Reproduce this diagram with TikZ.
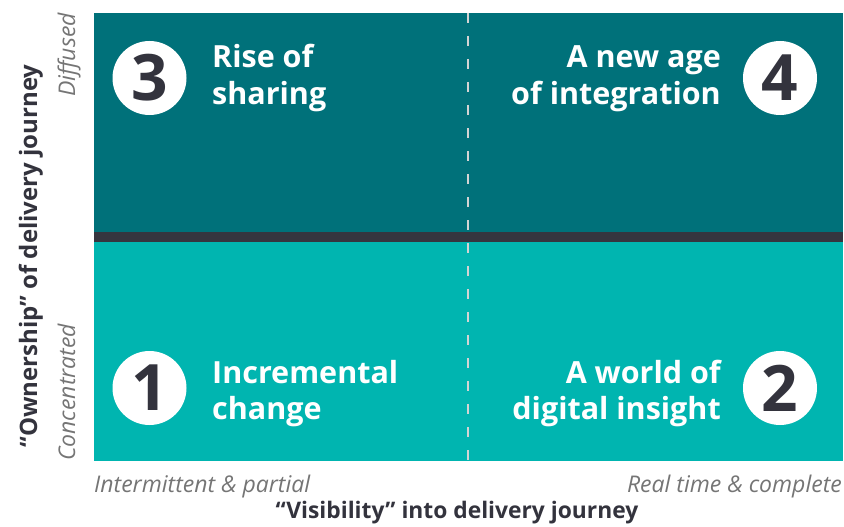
\documentclass[tikz,border=0pt]{standalone}
\usepackage{fontspec}
\setmainfont{Open Sans}
\definecolor{darkteal}{HTML}{00717A}
\definecolor{lightteal}{HTML}{00B5B0}
\definecolor{barcol}{HTML}{35353F}
\definecolor{inkcol}{HTML}{33333D}
\definecolor{labgray}{HTML}{757575}
\definecolor{dashgray}{HTML}{D4D4D4}
\tikzset{
  numcirc/.style={circle, fill=white, minimum size=74pt, inner sep=0pt,
    text=inkcol, font=\fontsize{64}{64}\selectfont\bfseries},
  title/.style={text=white, inner sep=0pt,
    font=\fontsize{30.5}{36}\selectfont\bfseries},
  endlab/.style={text=labgray, inner sep=0pt,
    font=\fontsize{23}{26}\selectfont\itshape},
  axislab/.style={text=inkcol, inner sep=0pt,
    font=\fontsize{22.8}{26}\selectfont\bfseries}
}
\begin{document}
\begin{tikzpicture}[x=1pt,y=-1pt]
\useasboundingbox (0,0) rectangle (844,527);
% quadrants
\fill[darkteal] (94,13) rectangle (843,237);
\fill[lightteal] (94,237) rectangle (843,461);
\draw[dashgray, line width=2pt, dash pattern=on 10pt off 13pt] (468,13) -- (468,461);
\fill[barcol] (94,232) rectangle (843,242);
% circles
\node[numcirc] (n3) at (149.5,78) {3};
\node[numcirc] (n4) at (780,78) {4};
\node[numcirc] (n1) at (149.5,388) {1};
\node[numcirc] (n2) at (780,388) {2};
% titles (anchor = baseline of the second line)
\node[title, anchor=base west, align=left] (t3) at (212,104) {Rise of\\sharing};
\node[title, anchor=base east, align=right] (t4) at (721,104) {A new age\\of integration};
\node[title, anchor=base west, align=left] (t1) at (212,419) {Incremental\\change};
\node[title, anchor=base east, align=right] (t2) at (721,419) {A world of\\digital insight};
% axis end labels
\node[endlab, anchor=base west] (xl) at (94,492) {Intermittent \& partial};
\node[endlab, anchor=base east] (xr) at (842,492) {Real time \& complete};
\node[endlab, anchor=base east, rotate=90] (yt) at (75,13) {Diffused};
\node[endlab, anchor=base west, rotate=90] (yb) at (75,461) {Concentrated};
% axis titles
\node[axislab, anchor=base] (xa) at (457,518) {“Visibility” into delivery journey};
\node[axislab, anchor=base, rotate=90] (ya) at (37,256) {\fontsize{24}{26}\selectfont “Ownership” of delivery journey};
\end{tikzpicture}
\end{document}
